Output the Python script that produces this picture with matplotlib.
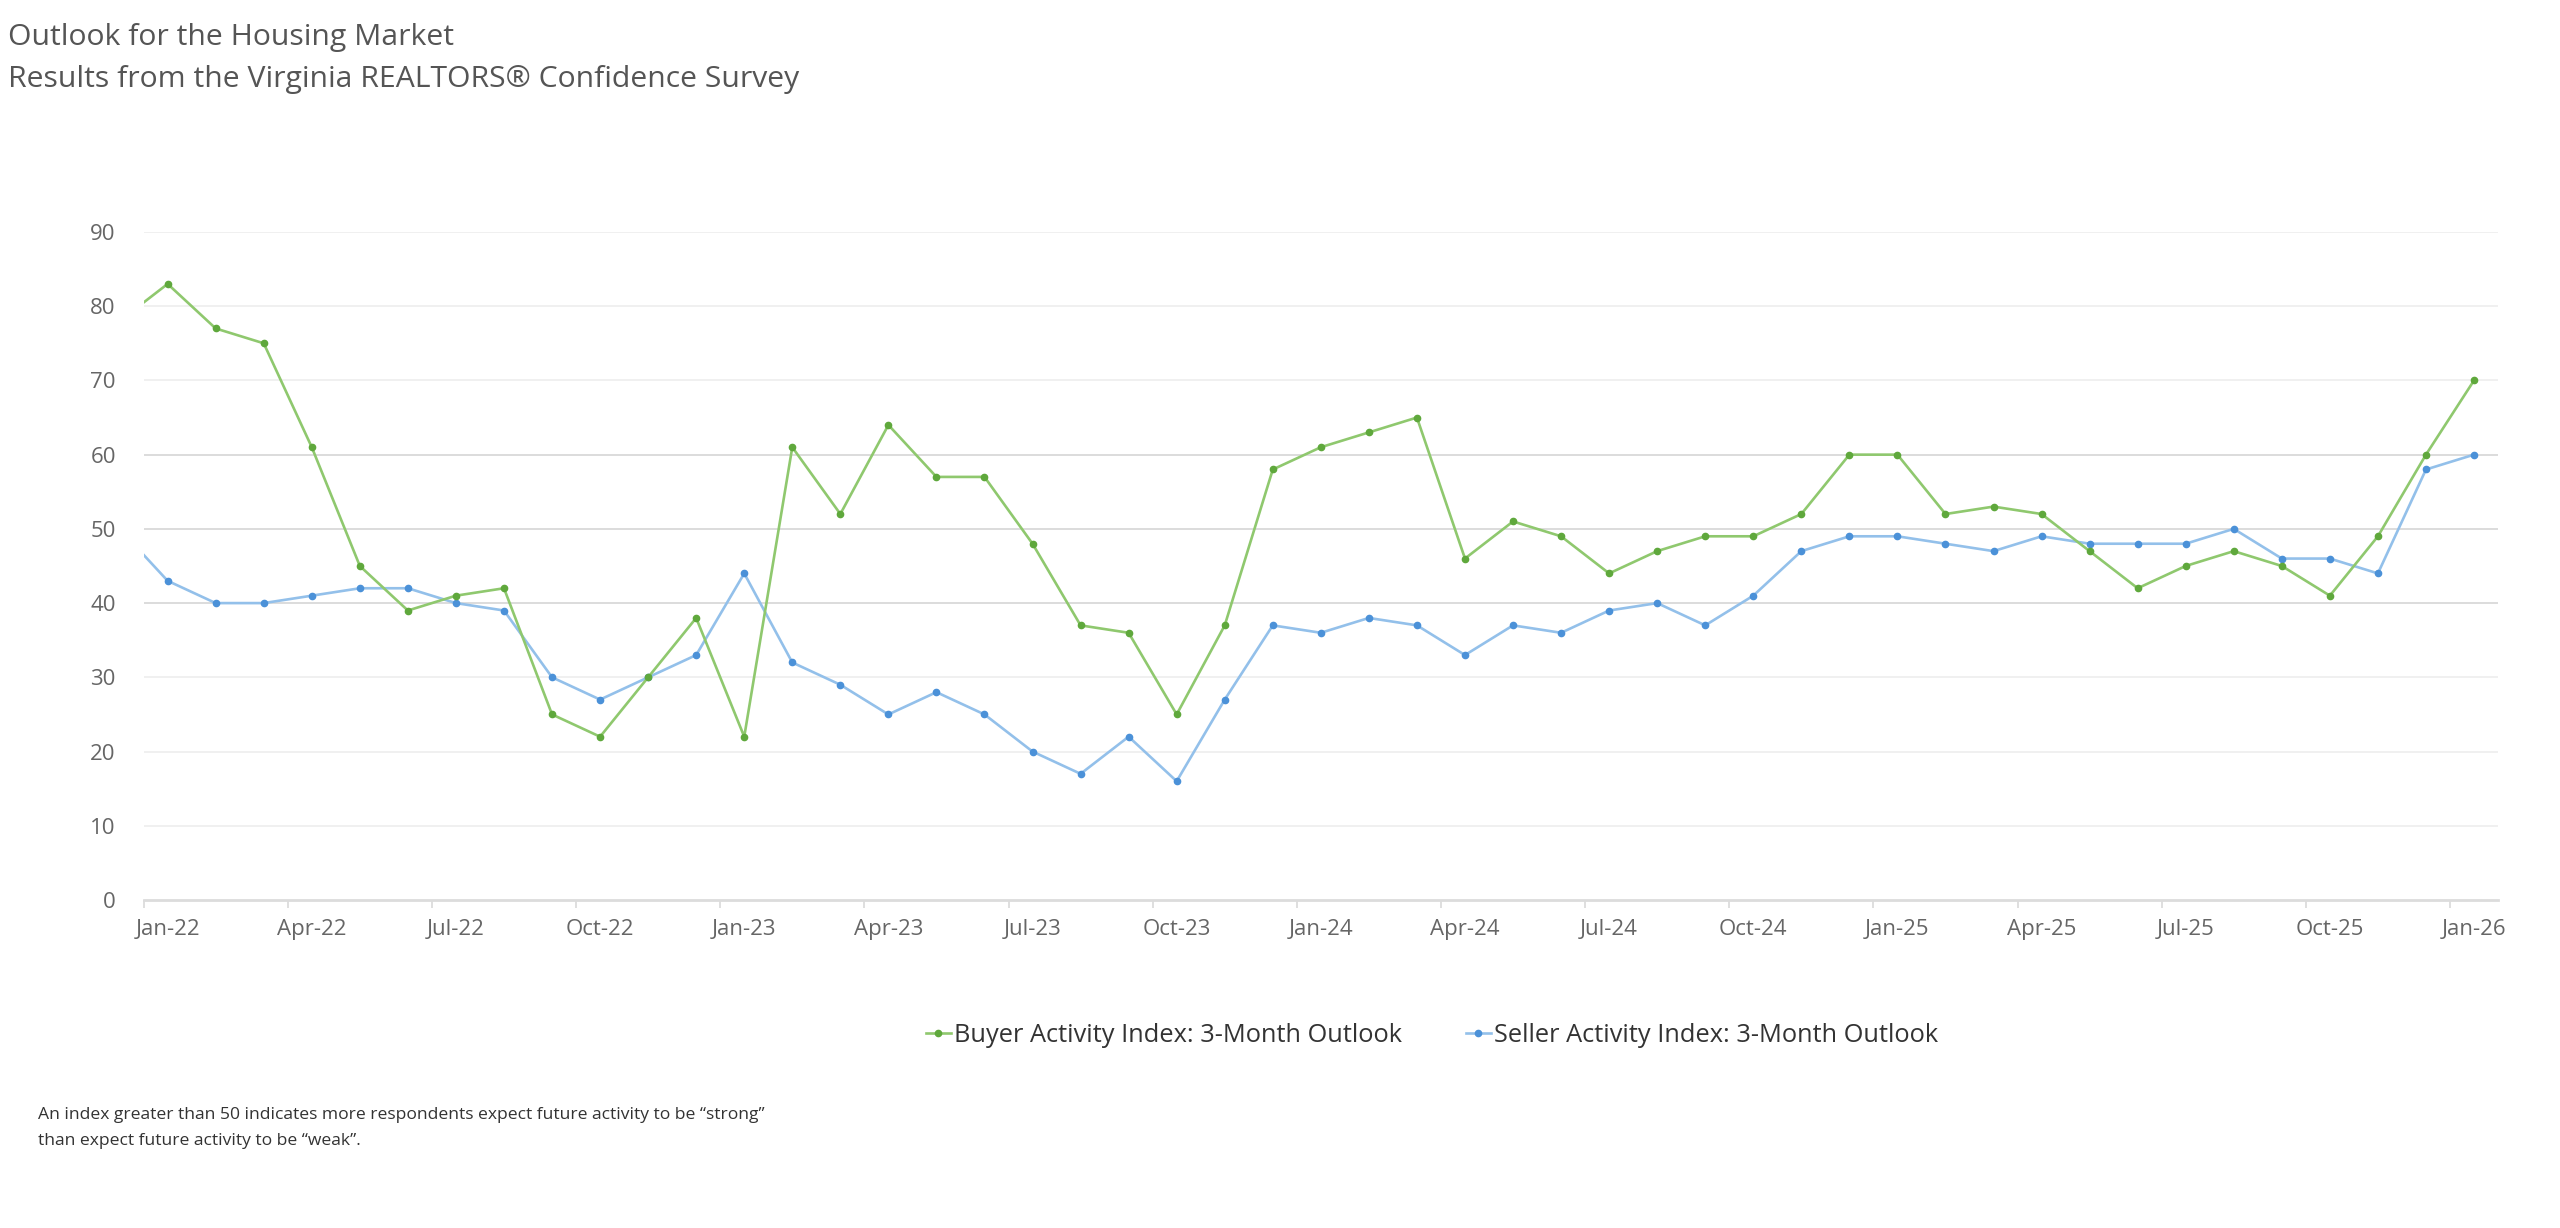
import matplotlib.pyplot as plt
from matplotlib.lines import Line2D
import pandas as pd
import numpy as np

plt.rcParams['font.family'] = ['Open Sans', 'DejaVu Sans']

# monthly survey readings, Dec-21 (clipped at the left edge) to Jan-26
months = pd.date_range('2021-12-01', '2026-01-01', freq='MS')
buyer = [78,
         83, 77, 75, 61, 45, 39, 41, 42, 25, 22, 30, 38,
         22, 61, 52, 64, 57, 57, 48, 37, 36, 25, 37, 58,
         61, 63, 65, 46, 51, 49, 44, 47, 49, 49, 52, 60,
         60, 52, 53, 52, 47, 42, 45, 47, 45, 41, 49, 60,
         70]
seller = [50,
          43, 40, 40, 41, 42, 42, 40, 39, 30, 27, 30, 33,
          44, 32, 29, 25, 28, 25, 20, 17, 22, 16, 27, 37,
          36, 38, 37, 33, 37, 36, 39, 40, 37, 41, 47, 49,
          49, 48, 47, 49, 48, 48, 48, 50, 46, 46, 44, 58,
          60]
labels = ['Buyer Activity Index: 3-Month Outlook',
          'Seller Activity Index: 3-Month Outlook']
y_ticks = [0, 10, 20, 30, 40, 50, 60, 70, 80, 90]

green_line, green_dot = '#8fc86e', '#5fa83c'
blue_line, blue_dot = '#93c0ea', '#4b91d8'

x = np.arange(len(months))

fig = plt.figure(figsize=(25.6, 12.28), dpi=100)
ax = fig.add_axes([0.0561, 0.2671, 0.9197, 0.544])

# gridlines (middle ones look a bit darker in the original)
for v in y_ticks[1:]:
    c = '#d9d9d9' if v in (40, 50, 60) else '#efefef'
    ax.axhline(v, color=c, lw=1.3, zorder=0)

ax.plot(x, buyer, color=green_line, lw=1.9, marker='o', ms=4.5,
        mfc=green_dot, mec=green_dot, zorder=3)
ax.plot(x, seller, color=blue_line, lw=1.9, marker='o', ms=4.5,
        mfc=blue_dot, mec=blue_dot, zorder=2)

ax.set_xlim(0.5, 49.5)
ax.set_ylim(0, 90)

ax.set_yticks(y_ticks)
ax.tick_params(axis='y', length=0, labelsize=16, labelcolor='#666666', pad=20)

lab_pos = x[1::3]
ax.set_xticks(lab_pos)
ax.set_xticklabels([m.strftime('%b-%y') for m in months[1::3]])
ax.set_xticks(lab_pos - 0.5, minor=True)
ax.tick_params(axis='x', which='major', length=0, labelsize=16,
               labelcolor='#666666', pad=14)
ax.tick_params(axis='x', which='minor', length=6, width=1.3, color='#dcdcdc')

for s in ['top', 'right', 'left']:
    ax.spines[s].set_visible(False)
ax.spines['bottom'].set_color('#dcdcdc')
ax.spines['bottom'].set_linewidth(2)

fig.text(8 / 2560, 1 - 38 / 1228, 'Outlook for the Housing Market',
         fontsize=21.7, color='#555555', va='center')
fig.text(8 / 2560, 1 - 80 / 1228,
         'Results from the Virginia REALTORS® Confidence Survey',
         fontsize=21.7, color='#555555', va='center')

handles = [Line2D([], [], color=green_line, lw=1.9, marker='o', ms=4.5,
                  mfc=green_dot, mec=green_dot),
           Line2D([], [], color=blue_line, lw=1.9, marker='o', ms=4.5,
                  mfc=blue_dot, mec=blue_dot)]
leg = fig.legend(handles, labels, loc='center', ncol=2, frameon=False,
                 bbox_to_anchor=(1432 / 2560, 1 - 1035 / 1228),
                 fontsize=18.3, handlelength=1.0, handletextpad=0.12,
                 columnspacing=2.5)
for t in leg.get_texts():
    t.set_color('#333333')

fig.text(38 / 2560, 1 - 1115 / 1228,
         'An index greater than 50 indicates more respondents expect future activity to be \u201cstrong\u201d',
         fontsize=12.6, color='#333333', va='center')
fig.text(38 / 2560, 1 - 1141 / 1228,
         'than expect future activity to be \u201cweak\u201d.',
         fontsize=12.6, color='#333333', va='center')

fig.savefig('out.png', dpi=100)
